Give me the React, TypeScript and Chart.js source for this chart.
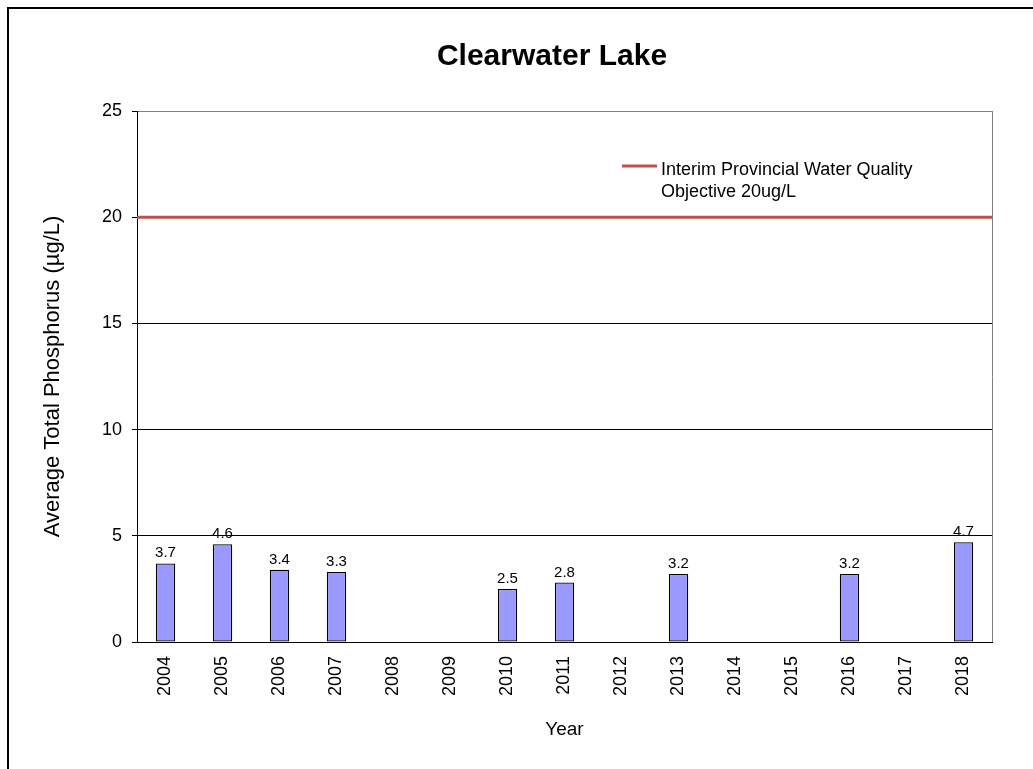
import React, { useEffect, useRef } from "react";
import { Chart, registerables } from "chart.js";

Chart.register(...registerables);

const YEARS = ["2004", "2005", "2006", "2007", "2008", "2009", "2010", "2011", "2012", "2013", "2014", "2015", "2016", "2017", "2018"];
const PHOSPHORUS: (number | null)[] = [3.7, 4.6, 3.4, 3.3, null, null, 2.5, 2.8, null, 3.2, null, null, 3.2, null, 4.7];
const OBJECTIVE = 20;
const OBJECTIVE_LABEL = ["Interim Provincial Water Quality", "Objective 20ug/L"];
const TITLE = "Clearwater Lake";
const Y_MIN = 0;
const Y_MAX = 25;
const Y_STEP = 5;

const FONT = "'Liberation Sans', Arial, sans-serif";

const valueLabels = {
  id: "valueLabels",
  afterDatasetsDraw(chart: any) {
    const ctx = chart.ctx;
    const meta = chart.getDatasetMeta(0);
    ctx.save();
    ctx.font = `15px ${FONT}`;
    ctx.fillStyle = "#000";
    ctx.textAlign = "center";
    ctx.textBaseline = "alphabetic";
    meta.data.forEach((bar: any, i: number) => {
      const v = PHOSPHORUS[i];
      if (v == null) return;
      ctx.fillText(v.toFixed(1), bar.x, bar.y - 6);
    });
    ctx.restore();
  },
};

const objectiveLine = {
  id: "objectiveLine",
  afterDatasetsDraw(chart: any) {
    const ctx = chart.ctx;
    const a = chart.chartArea;
    const y = chart.scales.y.getPixelForValue(OBJECTIVE);
    ctx.save();
    ctx.strokeStyle = "#C0504D";
    ctx.lineWidth = 3;
    ctx.beginPath();
    ctx.moveTo(a.left, y);
    ctx.lineTo(a.right, y);
    ctx.stroke();
    ctx.restore();
  },
};

const frameTitleLegend = {
  id: "frameTitleLegend",
  afterDraw(chart: any) {
    const ctx = chart.ctx;
    const a = chart.chartArea;
    ctx.save();
    // right border of plot area
    ctx.strokeStyle = "#808080";
    ctx.lineWidth = 1;
    ctx.beginPath();
    ctx.moveTo(Math.round(a.right) + 0.5, a.top);
    ctx.lineTo(Math.round(a.right) + 0.5, a.bottom);
    ctx.stroke();
    // title
    ctx.fillStyle = "#000";
    ctx.font = `bold 30px ${FONT}`;
    ctx.textAlign = "center";
    ctx.textBaseline = "middle";
    ctx.fillText(TITLE, a.left + 415, a.top - 54);
    // legend
    const lx = a.left + 485;
    const ly = a.top + 55;
    ctx.strokeStyle = "#C0504D";
    ctx.lineWidth = 3;
    ctx.beginPath();
    ctx.moveTo(lx, ly);
    ctx.lineTo(lx + 35, ly);
    ctx.stroke();
    ctx.fillStyle = "#000";
    ctx.font = `18px ${FONT}`;
    ctx.textAlign = "left";
    ctx.textBaseline = "alphabetic";
    OBJECTIVE_LABEL.forEach((t, i) => {
      ctx.fillText(t, lx + 39, ly + 8.5 + i * 22.4);
    });
    ctx.restore();
  },
};

export default function App() {
  const ref = useRef<HTMLCanvasElement>(null);
  useEffect(() => {
    if (!ref.current) return;
    const chart = new Chart(ref.current, {
      type: "bar",
      data: {
        labels: YEARS,
        datasets: [
          {
            label: "Average Total Phosphorus",
            data: PHOSPHORUS,
            backgroundColor: "#9999FF",
            borderColor: "#000",
            borderWidth: 1.3,
            borderSkipped: false,
            barPercentage: 0.34,
            categoryPercentage: 1,
          } as any,
        ],
      },
      options: {
        responsive: false,
        animation: false,
        devicePixelRatio: 1,
        layout: { padding: { left: 0, right: 41, top: 111, bottom: 0 } },
        plugins: {
          legend: { display: false },
          tooltip: { enabled: false },
          title: { display: false },
        },
        scales: {
          x: {
            type: "category",
            offset: true,
            grid: { display: false, drawTicks: false },
            border: { display: true, color: "#000", width: 1 },
            ticks: {
              color: "#000",
              font: { family: FONT, size: 18 },
              minRotation: 90,
              maxRotation: 90,
              padding: 14,
              autoSkip: false,
            },
            title: {
              display: true,
              text: "Year",
              color: "#000",
              font: { family: FONT, size: 19 },
              padding: { top: 0, bottom: 28 },
            },
            afterFit: (s: any) => {
              s.height = 127;
            },
          },
          y: {
            min: Y_MIN,
            max: Y_MAX,
            ticks: {
              stepSize: Y_STEP,
              color: "#000",
              font: { family: FONT, size: 18 },
              padding: 10,
            },
            grid: {
              color: (c: any) => (c.tick && c.tick.value === Y_MAX ? "#808080" : "#000"),
              tickColor: "#000",
              tickLength: 5,
              lineWidth: 1,
            },
            border: { display: true, color: "#000", width: 1 },
            title: {
              display: true,
              text: "Average Total Phosphorus (µg/L)",
              color: "#000",
              font: { family: FONT, size: 22 },
              padding: { top: 40, bottom: 0 },
            },
            afterFit: (s: any) => {
              s.width = 137;
            },
          },
        },
      } as any,
      plugins: [valueLabels, objectiveLine, frameTitleLegend],
    });
    return () => chart.destroy();
  }, []);

  return (
    <div
      style={{
        position: "fixed",
        left: 0,
        top: 0,
        width: 1033,
        height: 769,
        overflow: "hidden",
        background: "#fff",
      }}
    >
      <div
        style={{
          position: "absolute",
          left: 7,
          top: 7,
          width: 1100,
          height: 900,
          border: "2px solid #000",
          boxSizing: "border-box",
        }}
      />
      <canvas
        ref={ref}
        width={1033}
        height={769}
        style={{ position: "absolute", left: 0, top: 0, width: 1033, height: 769 }}
      />
    </div>
  );
}
